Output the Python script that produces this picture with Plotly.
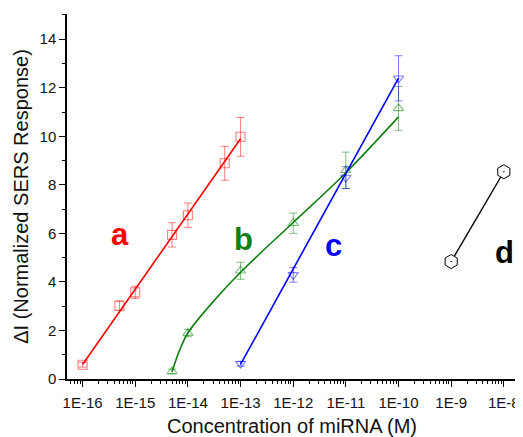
import plotly.graph_objects as go

# ---- data ----
a_x = [1e-16, 5e-16, 1e-15, 5e-15, 1e-14, 5e-14, 1e-13]
a_y = [0.59, 3.02, 3.57, 5.94, 6.75, 8.89, 9.98]
a_err = [0.1, 0.2, 0.25, 0.5, 0.5, 0.7, 0.8]
a_fit_x = [1e-16, 1e-13]
a_fit_y = [0.6, 9.9]

b_x = [5e-15, 1e-14, 1e-13, 1e-12, 1e-11, 1e-10]
b_y = [0.31, 1.89, 4.46, 6.42, 8.6, 11.15]
b_err = [0.1, 0.15, 0.35, 0.42, 0.75, 0.9]
b_fit_x = [5e-15, 7e-15, 1e-14, 3.2e-14, 1e-13, 1e-12, 1e-11, 1e-10]
b_fit_y = [0.3, 1.2, 1.9, 3.25, 4.4, 6.45, 8.5, 10.8]

c_x = [1e-13, 1e-12, 1e-11, 1e-10]
c_y = [0.63, 4.29, 8.3, 12.39]
c_err = [0.1, 0.3, 0.45, 0.93]
c_fit_x = [1e-13, 1e-10]
c_fit_y = [0.6, 12.4]

d_x = [1e-9, 1e-8]
d_y = [4.84, 8.54]

x_tickvals = [1e-16, 1e-15, 1e-14, 1e-13, 1e-12, 1e-11, 1e-10, 1e-9, 1e-8]
x_ticktext = ["1E-16", "1E-15", "1E-14", "1E-13", "1E-12", "1E-11", "1E-10", "1E-9", "1E-8"]
y_tickvals = [0, 2, 4, 6, 8, 10, 12, 14]

labels = ["a", "b", "c", "d"]
label_x = [-15.296, -12.94, -11.24, -7.994]
label_y = [5.94, 5.73, 5.52, 5.2]

# ---- styles ----
RED, GREEN, BLUE, BLACK = "#FF0000", "#118011", "#0000FF", "#000000"
RED_L, GREEN_L, BLUE_L = "rgba(255,0,0,0.5)", "rgba(0,128,0,0.5)", "rgba(0,0,255,0.5)"
FONT = "Liberation Sans, Arial"

fig = go.Figure()

def add_series(x, y, err, fx, fy, col, lcol, symbol, shape="linear"):
    fig.add_trace(go.Scatter(x=fx, y=fy, mode="lines", line=dict(color=col, width=1.6, shape=shape),
                             hoverinfo="skip", showlegend=False))
    fig.add_trace(go.Scatter(x=x, y=y, mode="markers",
                             marker=dict(symbol=symbol, size=9, color=lcol, line=dict(width=1.1, color=lcol)),
                             error_y=dict(type="data", array=err, visible=True, color=lcol, thickness=1, width=4),
                             showlegend=False))

add_series(a_x, a_y, a_err, a_fit_x, a_fit_y, RED, RED_L, "square-open")
add_series(b_x, b_y, b_err, b_fit_x, b_fit_y, GREEN, GREEN_L, "triangle-up-open", "spline")
add_series(c_x, c_y, c_err, c_fit_x, c_fit_y, BLUE, BLUE_L, "triangle-down-open")

# d series
fig.add_trace(go.Scatter(x=d_x, y=d_y, mode="lines", line=dict(color=BLACK, width=1.4), showlegend=False))
fig.add_trace(go.Scatter(x=d_x, y=d_y, mode="markers",
                         marker=dict(symbol="hexagon", size=15, color="white", line=dict(width=0)),
                         showlegend=False))
fig.add_trace(go.Scatter(x=d_x, y=d_y, mode="markers",
                         marker=dict(symbol="hexagon-open-dot", size=14, color=BLACK, line=dict(width=1)),
                         showlegend=False))

label_cols = [RED, GREEN, BLUE, BLACK]
for t, lx, ly, c in zip(labels, label_x, label_y, label_cols):
    fig.add_annotation(x=lx, y=ly, xref="x", yref="y", text="<b>%s</b>" % t, showarrow=False,
                       font=dict(family=FONT, size=31, color=c))

# page body has an 8px margin: size/offset the figure so the plot sits where the reference has it
fig.update_layout(
    width=515, height=429,
    margin=dict(l=59, r=3, t=6, b=58),
    plot_bgcolor="white", paper_bgcolor="white",
    font=dict(family=FONT, color="#111111"),
)
fig.update_xaxes(type="log", range=[-16.296, -7.75], tickvals=x_tickvals, ticktext=x_ticktext,
                 showgrid=False, zeroline=False, showline=True, linecolor="black", linewidth=1.5,
                 ticks="outside", ticklen=6, tickwidth=1.2, tickcolor="black", ticklabelstandoff=3,
                 minor=dict(ticks="outside", ticklen=3, tickwidth=1, tickcolor="black", dtick="D1", showgrid=False),
                 tickfont=dict(size=15),
                 title=dict(text="Concentration of miRNA (M)", font=dict(size=20), standoff=9))
fig.update_yaxes(range=[0, 15.04], tickvals=y_tickvals,
                 showgrid=False, zeroline=False, showline=True, linecolor="black", linewidth=1.5,
                 ticks="outside", ticklen=6, tickwidth=1.2, tickcolor="black",
                 minor=dict(ticks="outside", ticklen=3, tickwidth=1, tickcolor="black", dtick=1, showgrid=False),
                 tickfont=dict(size=15),
                 title=dict(text="ΔI (Normalized SERS Response)", font=dict(size=20), standoff=6))

fig.write_html("out.html")
